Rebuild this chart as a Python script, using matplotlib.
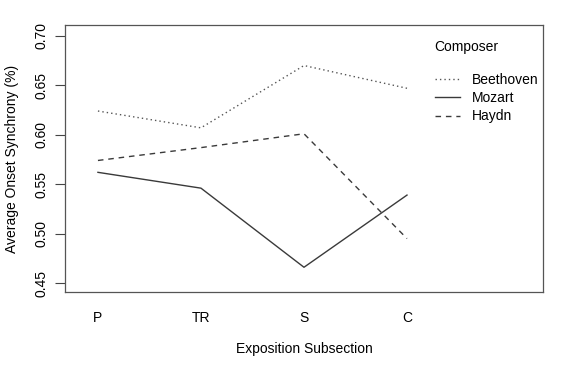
import matplotlib
matplotlib.use("Agg")
import matplotlib.pyplot as plt
import numpy as np

plt.rcParams['font.family'] = ['Liberation Sans', 'DejaVu Sans']

# exposition subsections and mean onset synchrony per composer
sections = ['P', 'TR', 'S', 'C']
beethoven = [0.624, 0.607, 0.670, 0.647]
mozart = [0.562, 0.546, 0.466, 0.539]
haydn = [0.574, 0.587, 0.601, 0.495]

x = np.arange(1, len(sections) + 1)

fig = plt.figure(figsize=(5.76, 3.73), dpi=100)
ax = fig.add_axes([0.1128, 0.2172, 0.8299, 0.7158])

lc = '#3a3a3a'
ax.plot(x, beethoven, color='#555555', lw=1, linestyle=(0, (1, 2.2)), label='Beethoven')
ax.plot(x, mozart, color=lc, lw=1, linestyle='-', label='Mozart')
ax.plot(x, haydn, color=lc, lw=1, linestyle=(0, (4, 3.5)), label='Haydn')

ax.set_xlim(0.68, 5.32)
ax.set_ylim(0.441, 0.711)

fs = 10
ax.set_xticks(x)
ax.set_xticklabels(sections, fontsize=fs)
ax.tick_params(axis='x', length=0, pad=14)
yt = [0.45, 0.50, 0.55, 0.60, 0.65, 0.70]
ax.set_yticks(yt)
ax.set_yticklabels(['%.2f' % v for v in yt], rotation=90, va='center', fontsize=fs)
ax.tick_params(axis='y', length=7, width=0.8, color='#444444', pad=5)

for s in ax.spines.values():
    s.set_color('#555555')
    s.set_linewidth(0.9)

ax.set_xlabel('Exposition Subsection', fontsize=fs, labelpad=12)
ax.set_ylabel('Average Onset Synchrony (%)', fontsize=fs, labelpad=11)

ax.text(0.772, 0.918, 'Composer', transform=ax.transAxes, fontsize=fs,
        ha='left', va='center')
ax.legend(loc='upper left', bbox_to_anchor=(0.774, 0.82), frameon=False,
          fontsize=fs, borderpad=0, borderaxespad=0,
          handlelength=1.8, handletextpad=0.85, labelspacing=0.3)

fig.savefig('out.png', dpi=100)
